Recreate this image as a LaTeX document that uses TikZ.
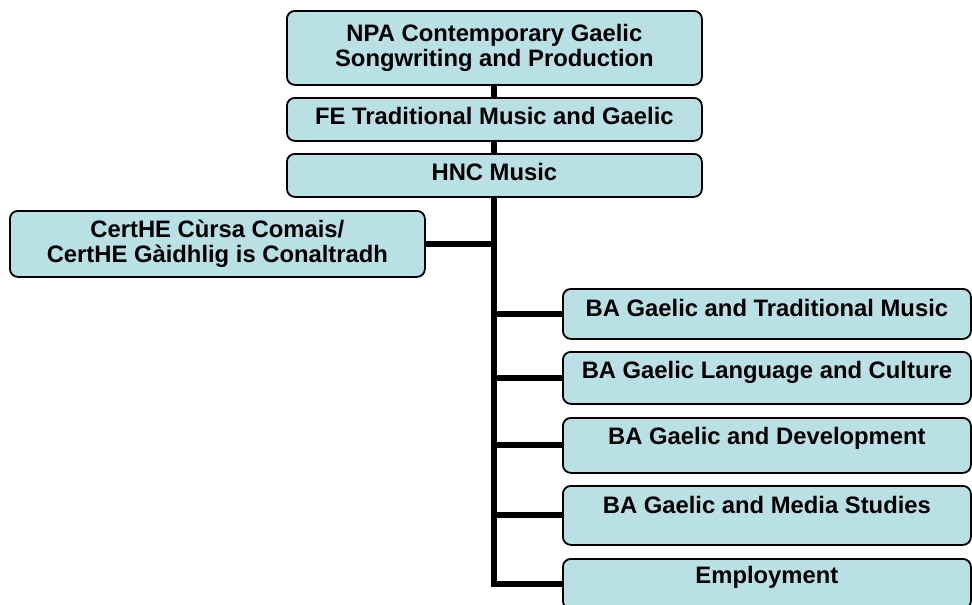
\documentclass[tikz,border=0pt]{standalone}
\usepackage{fontspec}
\setmainfont{Liberation Sans}
\definecolor{boxfill}{RGB}{185,224,228}
\begin{document}
\begin{tikzpicture}[x=1pt,y=-1pt,
  box/.style={draw=black, line width=1.8pt, fill=boxfill, rounded corners=8pt,
    inner xsep=0pt, inner ysep=0pt, anchor=north west,
    font=\bfseries\fontsize{23.8}{25}\selectfont},
  conn/.style={draw=black, line width=6pt}]
\useasboundingbox (0,0) rectangle (972,605);
\fill[white] (0,0) rectangle (972,605);
\node[box, minimum width=415pt, minimum height=74pt, align=center] (npa) at (286,10)
  {NPA Contemporary Gaelic\\Songwriting and Production};
\node[box, minimum width=415pt, text height=27pt, text depth=16pt] (fe) at (286,97)
  {FE Traditional Music and Gaelic};
\node[box, minimum width=415pt, text height=27pt, text depth=16pt] (hnc) at (286,153)
  {HNC Music};
\node[box, minimum width=415pt, minimum height=66pt, align=center] (cert) at (9,210)
  {CertHE Cùrsa Comais/\\CertHE Gàidhlig is Conaltradh};
\node[box, minimum width=408pt, text height=28pt, text depth=22pt] (ba1) at (562,288)
  {BA Gaelic and Traditional Music};
\node[box, minimum width=408pt, text height=27pt, text depth=25pt] (ba2) at (562,351)
  {BA Gaelic Language and Culture};
\node[box, minimum width=408pt, text height=27pt, text depth=28pt] (ba3) at (562,417)
  {BA Gaelic and Development};
\node[box, minimum width=408pt, text height=28pt, text depth=31pt] (ba4) at (562,485)
  {BA Gaelic and Media Studies};
\node[box, minimum width=408pt, text height=25pt, text depth=25pt] (emp) at (562,558)
  {Employment};
\draw[conn] (npa.south) -- (fe.north);
\draw[conn] (fe.south) -- (hnc.north);
\draw[conn] (hnc.south) |- (emp.west);
\draw[conn] (cert.east) -- (cert.east -| hnc.south);
\draw[conn] (ba1.west) -- (ba1.west -| hnc.south);
\draw[conn] (ba2.west) -- (ba2.west -| hnc.south);
\draw[conn] (ba3.west) -- (ba3.west -| hnc.south);
\draw[conn] (ba4.west) -- (ba4.west -| hnc.south);
\end{tikzpicture}
\end{document}
